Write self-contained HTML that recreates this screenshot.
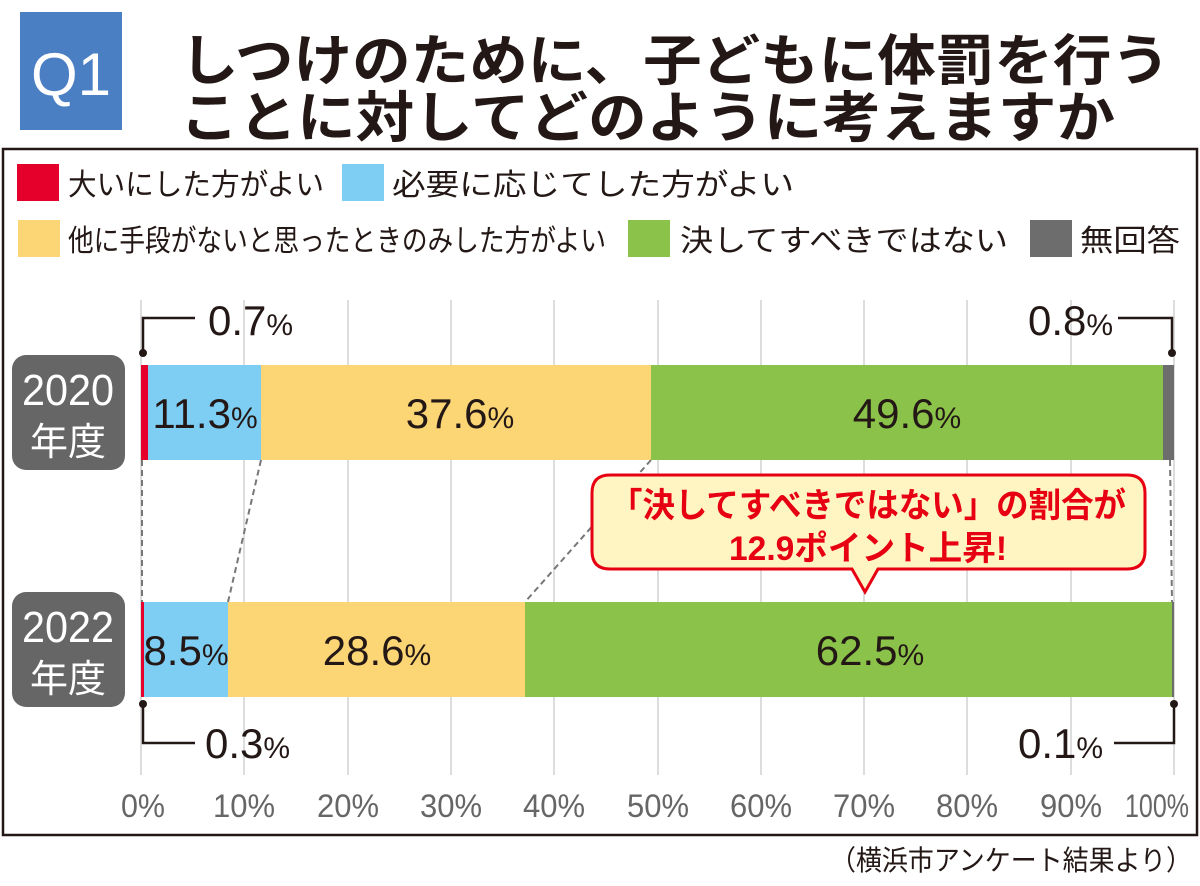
<!DOCTYPE html>
<html><head><meta charset="utf-8"><style>
body{margin:0;background:#fff;width:1200px;height:881px;overflow:hidden;font-family:"Liberation Sans","Noto Sans CJK JP",sans-serif;}
</style></head><body>
<svg width="1200" height="881" xmlns="http://www.w3.org/2000/svg" font-family="Liberation Sans, Noto Sans CJK JP, sans-serif">
<rect x="20" y="12" width="102" height="118" fill="#4a7fc4"/>
<text x="71" y="95" fill="#fff" font-size="60" text-anchor="middle">Q1</text>
<text x="180" y="80" font-size="55" font-weight="bold" fill="#231815" textLength="990" lengthAdjust="spacingAndGlyphs">しつけのために、子どもに体罰を行う</text>
<text x="180" y="137" font-size="55" font-weight="bold" fill="#231815" textLength="935" lengthAdjust="spacingAndGlyphs">ことに対してどのように考えますか</text>
<rect x="3" y="149" width="1194" height="686" fill="none" stroke="#231815" stroke-width="2.5"/>
<g font-size="30" fill="#231815">
<rect x="17" y="164" width="42" height="37" fill="#e4002b"/><text x="68" y="195" textLength="256" lengthAdjust="spacingAndGlyphs">大いにした方がよい</text>
<rect x="342" y="164" width="42" height="37" fill="#7ecef4"/><text x="392" y="195" textLength="402" lengthAdjust="spacingAndGlyphs">必要に応じてした方がよい</text>
<rect x="18" y="220" width="42" height="37" fill="#fcd575"/><text x="68" y="251" textLength="538" lengthAdjust="spacingAndGlyphs">他に手段がないと思ったときのみした方がよい</text>
<rect x="628" y="220" width="42" height="37" fill="#8bc34a"/><text x="680" y="251" textLength="328" lengthAdjust="spacingAndGlyphs">決してすべきではない</text>
<rect x="1030" y="220" width="42" height="37" fill="#6d6d6d"/><text x="1080" y="251" textLength="100" lengthAdjust="spacingAndGlyphs">無回答</text>
</g>
<g stroke="#ddd" stroke-width="2">
<line x1="141" y1="300" x2="141" y2="775"/><line x1="244" y1="300" x2="244" y2="775"/><line x1="348" y1="300" x2="348" y2="775"/><line x1="451" y1="300" x2="451" y2="775"/><line x1="554" y1="300" x2="554" y2="775"/><line x1="658" y1="300" x2="658" y2="775"/><line x1="761" y1="300" x2="761" y2="775"/><line x1="864" y1="300" x2="864" y2="775"/><line x1="967" y1="300" x2="967" y2="775"/><line x1="1071" y1="300" x2="1071" y2="775"/><line x1="1174" y1="300" x2="1174" y2="775"/>
</g>
<g font-size="32" fill="#666" text-anchor="middle">
<text x="143" y="817" textLength="44" lengthAdjust="spacingAndGlyphs">0%</text><text x="244" y="817" textLength="62" lengthAdjust="spacingAndGlyphs">10%</text><text x="348" y="817" textLength="62" lengthAdjust="spacingAndGlyphs">20%</text><text x="451" y="817" textLength="62" lengthAdjust="spacingAndGlyphs">30%</text><text x="554" y="817" textLength="62" lengthAdjust="spacingAndGlyphs">40%</text><text x="658" y="817" textLength="62" lengthAdjust="spacingAndGlyphs">50%</text><text x="761" y="817" textLength="62" lengthAdjust="spacingAndGlyphs">60%</text><text x="864" y="817" textLength="62" lengthAdjust="spacingAndGlyphs">70%</text><text x="967" y="817" textLength="62" lengthAdjust="spacingAndGlyphs">80%</text><text x="1071" y="817" textLength="62" lengthAdjust="spacingAndGlyphs">90%</text><text x="1157" y="817" textLength="64" lengthAdjust="spacingAndGlyphs">100%</text>
</g>
<rect x="12" y="355" width="113" height="115" rx="14" fill="#666"/>
<text x="68" y="405" font-size="44" fill="#fff" text-anchor="middle" textLength="92" lengthAdjust="spacingAndGlyphs">2020</text>
<text x="68" y="455" font-size="38" fill="#fff" text-anchor="middle">年度</text>
<rect x="12" y="592" width="113" height="115" rx="14" fill="#666"/>
<text x="68" y="642" font-size="44" fill="#fff" text-anchor="middle" textLength="92" lengthAdjust="spacingAndGlyphs">2022</text>
<text x="68" y="692" font-size="38" fill="#fff" text-anchor="middle">年度</text>
<rect x="141" y="365" width="7" height="95" fill="#e4002b"/>
<rect x="148" y="365" width="113" height="95" fill="#7ecef4"/>
<rect x="261" y="365" width="390" height="95" fill="#fcd575"/>
<rect x="651" y="365" width="512" height="95" fill="#8bc34a"/>
<rect x="1163" y="365" width="11" height="95" fill="#6d6d6d"/>
<rect x="141" y="602" width="3" height="95" fill="#e4002b"/>
<rect x="144" y="602" width="84" height="95" fill="#7ecef4"/>
<rect x="228" y="602" width="297" height="95" fill="#fcd575"/>
<rect x="525" y="602" width="647" height="95" fill="#8bc34a"/>
<rect x="1172" y="602" width="2" height="95" fill="#6d6d6d"/>
<g stroke="#777" stroke-width="2" stroke-dasharray="6,4">
<line x1="142" y1="460" x2="142" y2="602"/><line x1="261" y1="460" x2="228" y2="602"/><line x1="651" y1="460" x2="525" y2="602"/><line x1="1170" y1="460" x2="1172" y2="602"/>
</g>
<g font-size="42" fill="#231815" text-anchor="middle">
<text x="205" y="428">11.3<tspan font-size="30">%</tspan></text>
<text x="460" y="428">37.6<tspan font-size="30">%</tspan></text>
<text x="907" y="428">49.6<tspan font-size="30">%</tspan></text>
<text x="186" y="665">8.5<tspan font-size="30">%</tspan></text>
<text x="377" y="665">28.6<tspan font-size="30">%</tspan></text>
<text x="870" y="665">62.5<tspan font-size="30">%</tspan></text>
</g>
<g stroke="#231815" stroke-width="2.5" fill="none">
<polyline points="143,353 143,318 195,318"/><polyline points="1172,353 1172,318 1118,318"/>
<polyline points="143,704 143,743 195,743"/><polyline points="1174,704 1174,743 1114,743"/>
</g>
<g fill="#231815"><circle cx="143" cy="353" r="4"/><circle cx="1172" cy="353" r="4"/><circle cx="143" cy="704" r="4"/><circle cx="1174" cy="704" r="4"/></g>
<g font-size="42" fill="#231815">
<text x="208" y="335">0.7<tspan font-size="30">%</tspan></text>
<text x="1028" y="335">0.8<tspan font-size="30">%</tspan></text>
<text x="205" y="758">0.3<tspan font-size="30">%</tspan></text>
<text x="1018" y="758">0.1<tspan font-size="30">%</tspan></text>
</g>
<path d="M610,475 H1127 Q1145,475 1145,493 V551 Q1145,569 1127,569 H878 L865,592 L852,569 H610 Q592,569 592,551 V493 Q592,475 610,475 Z" fill="#fff5c2" stroke="#e60012" stroke-width="3"/>
<g font-size="34" font-weight="bold" fill="#e60012" text-anchor="middle">
<text x="868" y="517" textLength="516" lengthAdjust="spacingAndGlyphs">「決してすべきではない」の割合が</text>
<text x="868" y="560" textLength="278" lengthAdjust="spacingAndGlyphs">12.9ポイント上昇!</text>
</g>
<text x="1192" y="870" font-size="28" fill="#231815" text-anchor="end" textLength="362" lengthAdjust="spacingAndGlyphs">（横浜市アンケート結果より）</text>
</svg>
</body></html>
